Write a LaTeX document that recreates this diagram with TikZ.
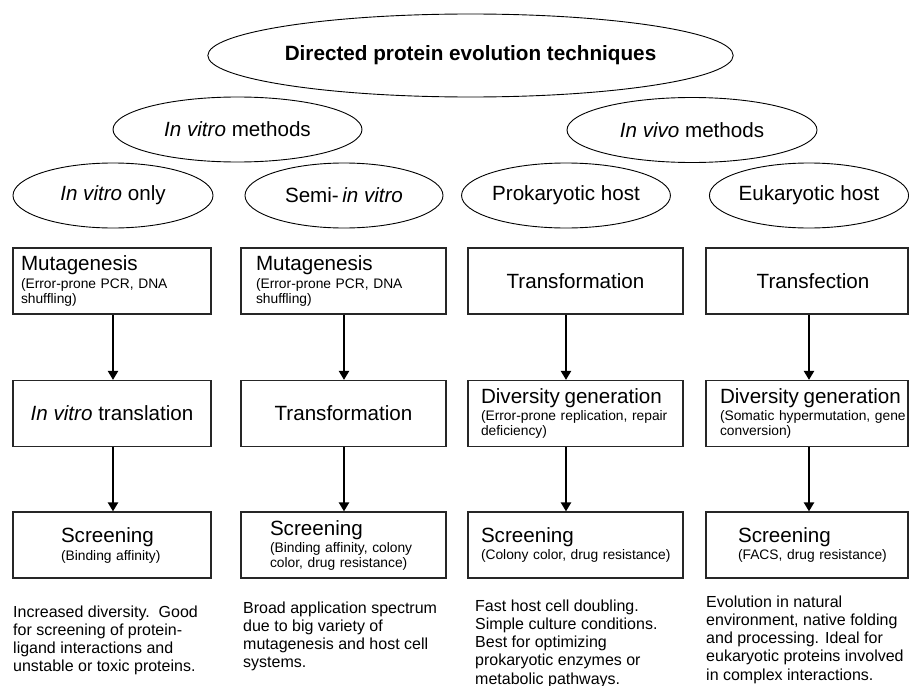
\documentclass[tikz,border=0pt]{standalone}
\usepackage{fontspec}
\setmainfont{Liberation Sans}
\usetikzlibrary{shapes.geometric,arrows.meta}
\newcommand\headtxt[1]{\mbox{\fontsize{20.6}{24}\selectfont #1}}
\tikzset{
  ell/.style={ellipse, draw, line width=0.9pt, inner sep=0pt, minimum height=65pt,
              font=\fontsize{20.6}{24}\selectfont},
  box/.style={rectangle, draw=black!85, line width=1.2pt, minimum height=66pt,
              inner sep=0pt, align=left, font=\fontsize{13.8}{15}\selectfont},
  arr/.style={line width=2.6pt, -{Triangle[length=9pt,width=10pt]}},
  desc/.style={anchor=north west, align=left, inner sep=0pt,
               font=\fontsize{16}{18.2}\selectfont}
}
\begin{document}
\begin{tikzpicture}[x=1pt,y=-1pt]
\useasboundingbox (0,0) rectangle (909,685);

% ellipses
\node[ell, minimum width=415pt, minimum height=83pt, font=\fontsize{20.7}{24}\selectfont\bfseries] (top) at (470.5,55.5) {Directed protein evolution techniques};
\node[ell, minimum width=249pt] (vitro) at (237.5,129.5) {\textit{In vitro} methods};
\node[ell, minimum width=250pt] (vivo) at (692,130) {\textit{In vivo} methods};
\node[ell, minimum width=200pt] (e1) at (113,195.5) {\textit{In vitro} only};
\node[ell, minimum width=198pt] (e2) at (344,195.5) {Semi-\,\textit{in vitro}};
\node[ell, minimum width=198pt] (e3) at (566,195.5) {Prokaryotic host};
\node[ell, minimum width=198pt] (e4) at (809,195.5) {Eukaryotic host};

% column 1
\node[box, minimum width=198pt, text width=182pt] (b11) at (112,281)
  {\headtxt{Mutagenesis}\\[3pt]\mbox{(Error-prone PCR, DNA}\\\mbox{shuffling)}};
\node[box, minimum width=198pt, align=center] (b12) at (112,413.5)
  {\headtxt{\textit{In vitro} translation}};
\node[box, minimum width=198pt, text width=102pt] (b13) at (112,545)
  {\headtxt{Screening}\\[3pt]\mbox{(Binding affinity)}};

% column 2
\node[box, minimum width=205pt, text width=175pt] (b21) at (343.5,281)
  {\headtxt{Mutagenesis}\\[3pt]\mbox{(Error-prone PCR, DNA}\\\mbox{shuffling)}};
\node[box, minimum width=205pt, align=center] (b22) at (343.5,413.5)
  {\headtxt{Transformation}};
\node[box, minimum width=205pt, text width=147pt] (b23) at (343.5,545)
  {\headtxt{Screening}\\[2pt]\mbox{(Binding affinity, colony}\\\mbox{color, drug resistance)}};

% column 3
\node[box, minimum width=215pt, align=center] (b31) at (575.5,281)
  {\headtxt{Transformation}};
\node[box, minimum width=215pt, text width=189pt] (b32) at (575.5,413.5)
  {\headtxt{Diversity generation}\\[2pt]\mbox{(Error-prone replication, repair}\\\mbox{deficiency)}};
\node[box, minimum width=215pt, text width=189pt] (b33) at (575.5,545)
  {\headtxt{Screening}\\[2pt]\mbox{(Colony color, drug resistance)}};

% column 4
\node[box, minimum width=202pt, align=center] (b41) at (807,281)
  {\headtxt{\hspace*{12pt}Transfection}};
\node[box, minimum width=202pt, text width=174pt] (b42) at (807,413.5)
  {\headtxt{Diversity generation}\\[2pt]\mbox{(Somatic hypermutation, gene}\\\mbox{conversion)}};
\node[box, minimum width=202pt, text width=138pt] (b43) at (807,545)
  {\headtxt{Screening}\\[2pt]\mbox{(FACS, drug resistance)}};

% arrows
\draw[arr] (b11.south -| e1) -- (b12.north -| e1);
\draw[arr] (b12.south -| e1) -- (b13.north -| e1);
\draw[arr] (b21.south -| e2) -- (b22.north -| e2);
\draw[arr] (b22.south -| e2) -- (b23.north -| e2);
\draw[arr] (b31.south -| e3) -- (b32.north -| e3);
\draw[arr] (b32.south -| e3) -- (b33.north -| e3);
\draw[arr] (b41.south -| e4) -- (b42.north -| e4);
\draw[arr] (b42.south -| e4) -- (b43.north -| e4);

% descriptions
\node[desc] (d1) at (13,605.5) {Increased diversity.\ \ Good\\for screening of protein-\\ligand interactions and\\unstable or toxic proteins.};
\node[desc] (d2) at (243,601.5) {Broad application spectrum\\due to big variety of\\mutagenesis and host cell\\systems.};
\node[desc] (d3) at (475,599.5) {Fast host cell doubling.\\Simple culture conditions.\\Best for optimizing\\prokaryotic enzymes or\\metabolic pathways.};
\node[desc] (d4) at (706,595.5) {Evolution in natural\\environment, native folding\\and processing. Ideal for\\eukaryotic proteins involved\\in complex interactions.};
\end{tikzpicture}
\end{document}
